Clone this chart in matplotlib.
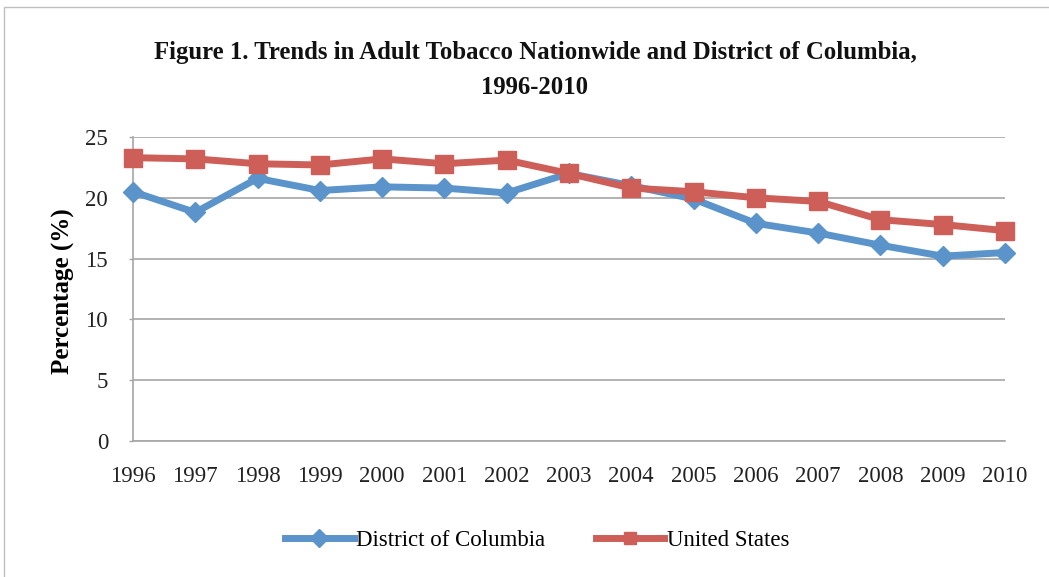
import matplotlib
matplotlib.use("Agg")
import matplotlib.pyplot as plt
from matplotlib.patches import Rectangle

years = [1996, 1997, 1998, 1999, 2000, 2001, 2002, 2003,
         2004, 2005, 2006, 2007, 2008, 2009, 2010]
dc_rate = [20.5, 18.8, 21.6, 20.6, 20.9, 20.8, 20.4, 22.0,
           21.0, 19.9, 17.9, 17.1, 16.1, 15.2, 15.5]
us_rate = [23.3, 23.2, 22.8, 22.7, 23.2, 22.8, 23.1, 22.0,
           20.8, 20.5, 20.0, 19.7, 18.2, 17.8, 17.3]
y_ticks = [0, 5, 10, 15, 20, 25]

title = "Figure 1. Trends in Adult Tobacco Nationwide and District of Columbia,\n1996-2010"

plt.rcParams["font.family"] = ["Liberation Serif", "DejaVu Serif"]

blue = "#5B93CB"
red = "#CD5F58"
grid = "#A6A6A6"

fig = plt.figure(figsize=(10.49, 5.77), dpi=100)
fig.patch.set_facecolor("white")

# thin frame around the chart area
fig.add_artist(Rectangle((4 / 1049, -0.05), 1.1, 1 - 7 / 577 + 0.05,
                         transform=fig.transFigure, fill=False,
                         edgecolor="#BFBFBF", linewidth=1.0))

ax = fig.add_axes([133 / 1049, 1 - 441 / 577, (1005 - 133) / 1049, (441 - 137) / 577])

ax.plot(years, dc_rate, color=blue, linewidth=5, marker="D", markersize=10.5,
        label="District of Columbia", zorder=3, solid_joinstyle="round",
        clip_on=False)
ax.plot(years, us_rate, color=red, linewidth=5, marker="s", markersize=13,
        label="United States", zorder=4, solid_joinstyle="round",
        clip_on=False)

ax.set_xlim(1996, 2010)
ax.set_ylim(0, 25)
ax.set_xticks(years)
ax.set_xticklabels([str(y) for y in years])
ax.set_yticks(y_ticks)

ax.grid(axis="y", color=grid, linewidth=1.2, zorder=0)
ax.set_axisbelow(True)
for side in ("top", "right"):
    ax.spines[side].set_visible(False)
for side in ("left", "bottom"):
    ax.spines[side].set_color(grid)
    ax.spines[side].set_linewidth(1.2)

ax.tick_params(axis="x", length=0, pad=18, labelsize=16.5, colors="#222222")
ax.tick_params(axis="y", length=3, width=1, color=grid, pad=15,
               labelsize=16.5, labelcolor="#222222")

ax.set_ylabel("Percentage (%)", fontsize=18, fontweight="bold")
ax.yaxis.set_label_coords(-58 / 872, (441 - 291) / 304)

fig.text(535 / 1049, 1 - 70 / 577, title, ha="center", va="center",
         fontsize=17.8, fontweight="bold", linespacing=1.7, color="#111111")

leg = fig.legend(loc="center", bbox_to_anchor=(537 / 1049, 1 - 540 / 577),
                 ncol=2, frameon=False, fontsize=16.5, handlelength=3.0,
                 handletextpad=0.1, columnspacing=2.2)
for h in leg.legend_handles:
    h.set_markersize(9)

fig.savefig("out.png", dpi=100, facecolor="white")
